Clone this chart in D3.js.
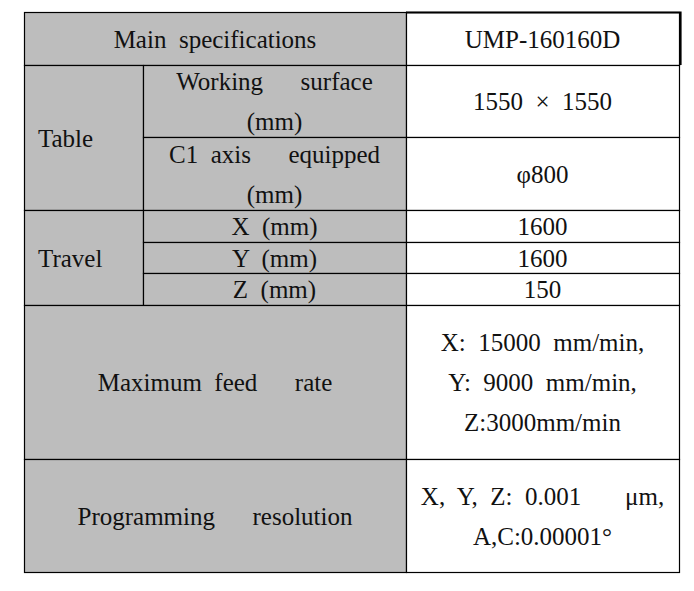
<!DOCTYPE html>
<html>
<head>
<meta charset="utf-8">
<script src="https://cdn.jsdelivr.net/npm/d3@7"></script>
<style>
  html, body { margin: 0; padding: 0; background: #ffffff; }
  svg text { white-space: pre; }
</style>
</head>
<body>
<svg id="chart" width="694" height="591"></svg>
<script>
// ---------- DATA ----------
const headerLabels = ["Main  specifications", "UMP-160160D"];
const groupLabels = ["Table", "Travel"];
const tableItems = [["Working      surface", "(mm)"], ["C1  axis      equipped", "(mm)"]];
const tableValues = [["1550  \u00d7  1550"], ["\u03c6800"]];
const travelItems = ["X  (mm)", "Y  (mm)", "Z  (mm)"];
const travelValues = ["1600", "1600", "150"];
const feedLabel = ["Maximum  feed      rate"];
const feedValues = ["X:  15000  mm/min,", "Y:  9000  mm/min,", "Z:3000mm/min"];
const resolutionLabel = ["Programming      resolution"];
const resolutionValues = ["X,  Y,  Z:  0.001       \u03bcm,", "A,C:0.00001\u00b0"];

// ---------- LAYOUT ----------
const rowEdges = [12, 65, 137, 210, 242, 273, 305, 459, 572];
const colEdges = [24, 143, 406, 679];
const y = d3.scaleLinear().domain(d3.range(rowEdges.length)).range(rowEdges);
const x = d3.scaleLinear().domain(d3.range(colEdges.length)).range(colEdges);
const GRAY = "#bdbdbd";
const fontSize = 25;
const lineGap = 40;
const leftPad = 14;
const FONT = "'Liberation Serif', 'DejaVu Serif', serif";

// build cells: r0,r1 (row index), c0,c1 (col index)
const cells = [];
cells.push({r0: 0, r1: 1, c0: 0, c1: 2, fill: GRAY, lines: [headerLabels[0]]});
cells.push({r0: 0, r1: 1, c0: 2, c1: 3, fill: "#fff", lines: [headerLabels[1]]});
cells.push({r0: 1, r1: 3, c0: 0, c1: 1, fill: GRAY, lines: [groupLabels[0]], align: "left"});
tableItems.forEach((t, i) => {
  cells.push({r0: 1 + i, r1: 2 + i, c0: 1, c1: 2, fill: GRAY, lines: t});
  cells.push({r0: 1 + i, r1: 2 + i, c0: 2, c1: 3, fill: "#fff", lines: tableValues[i]});
});
cells.push({r0: 3, r1: 6, c0: 0, c1: 1, fill: GRAY, lines: [groupLabels[1]], align: "left"});
travelItems.forEach((t, i) => {
  cells.push({r0: 3 + i, r1: 4 + i, c0: 1, c1: 2, fill: GRAY, lines: [t]});
  cells.push({r0: 3 + i, r1: 4 + i, c0: 2, c1: 3, fill: "#fff", lines: [travelValues[i]]});
});
cells.push({r0: 6, r1: 7, c0: 0, c1: 2, fill: GRAY, lines: feedLabel});
cells.push({r0: 6, r1: 7, c0: 2, c1: 3, fill: "#fff", lines: feedValues});
cells.push({r0: 7, r1: 8, c0: 0, c1: 2, fill: GRAY, lines: resolutionLabel});
cells.push({r0: 7, r1: 8, c0: 2, c1: 3, fill: "#fff", lines: resolutionValues});

const svg = d3.select("#chart");

const g = svg.selectAll("g.cell").data(cells).join("g").attr("class", "cell");

g.append("rect")
  .attr("x", d => x(d.c0) + 0.5)
  .attr("y", d => y(d.r0) + 0.5)
  .attr("width", d => x(d.c1) - x(d.c0))
  .attr("height", d => y(d.r1) - y(d.r0))
  .attr("fill", d => d.fill)
  .attr("stroke", "#000")
  .attr("stroke-width", 1.2);

g.each(function(d) {
  const left = d.align === "left";
  const cx = left ? x(d.c0) + leftPad : (x(d.c0) + x(d.c1)) / 2;
  const cy = (y(d.r0) + y(d.r1)) / 2;
  const n = d.lines.length;
  d3.select(this).selectAll("text").data(d.lines).join("text")
    .attr("x", cx)
    .attr("y", (t, i) => cy + 9 + (i - (n - 1) / 2) * lineGap)
    .attr("text-anchor", left ? "start" : "middle")
    .attr("font-family", FONT)
    .style("font-family", FONT)
    .attr("font-size", fontSize)
    .attr("fill", "#111")
    .text(t => t);
});

// heavier border on header value cell (top and right)
svg.append("path")
  .attr("d", `M${x(2)},${y(0) + 0.5}H${x(3) + 1.5}V${y(1)}`)
  .attr("fill", "none")
  .attr("stroke", "#000")
  .attr("stroke-width", 2.2);
</script>
</body>
</html>
